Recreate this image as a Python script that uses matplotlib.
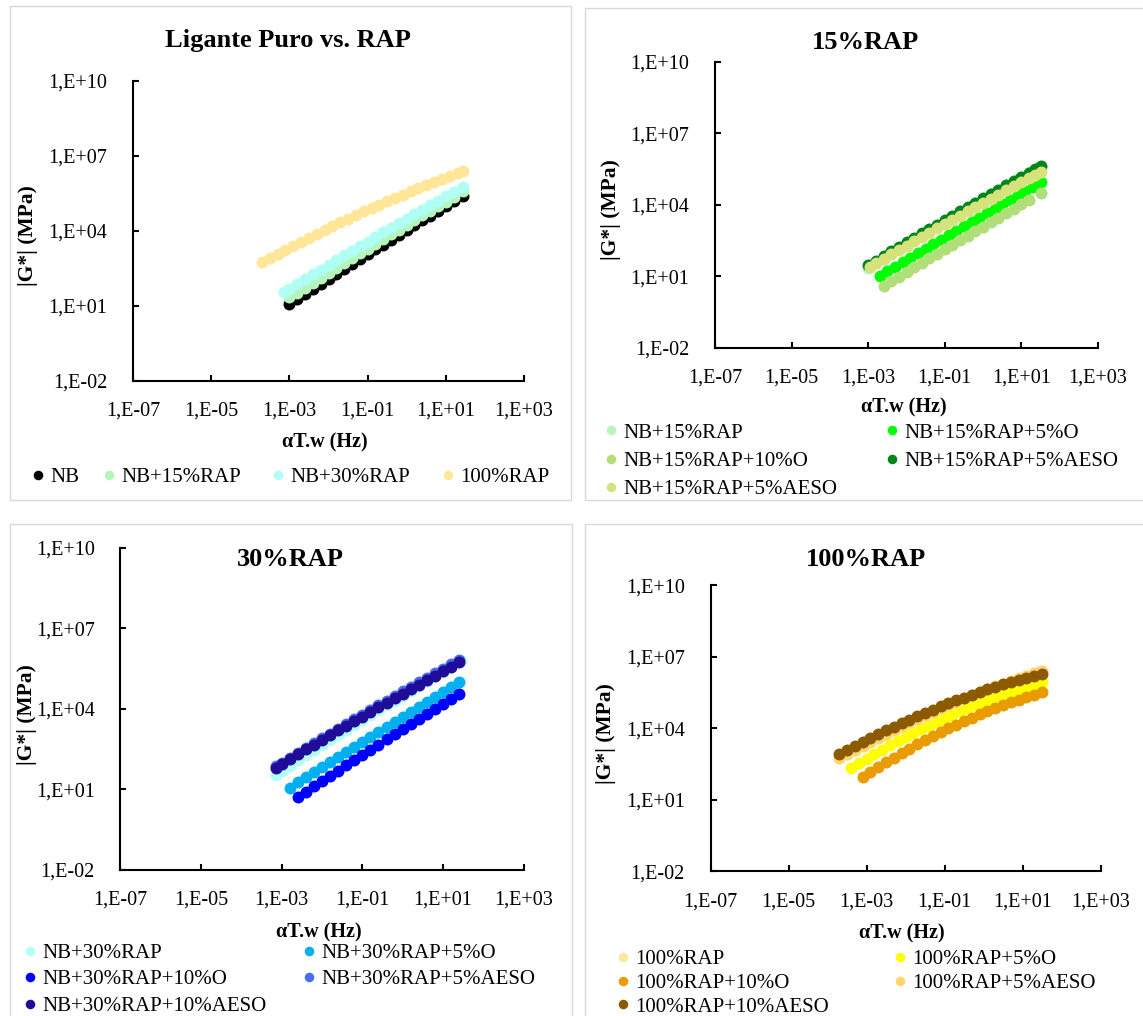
import matplotlib
matplotlib.use("Agg")
import matplotlib.pyplot as plt
from matplotlib.patches import Rectangle
from matplotlib.legend import Legend

plt.rcParams['font.family'] = ['Liberation Serif', 'DejaVu Serif']

W, H = 1143, 1016

# ---------------- data: reduced frequency (Hz) and |G*| (MPa) ----------------
# Ligante puro vs RAP
nb_f = [1.00e-3, 1.58e-3, 2.51e-3, 3.98e-3, 6.31e-3, 1.00e-2, 1.58e-2, 2.51e-2,
        3.98e-2, 6.31e-2, 0.100, 0.158, 0.251, 0.398, 0.631, 1.00, 1.58, 2.51,
        3.98, 6.31, 10.0, 15.8, 28.2]
nb_g = [11.5, 18.4, 29.3, 46.6, 74.2, 118, 187, 295, 467, 736, 1160, 1820, 2860,
        4480, 7000, 10900, 17100, 26500, 41200, 64000, 99100, 153000, 263000]

nb15_f = nb_f
nb15_g = [21.9, 34.5, 54.4, 85.6, 134, 211, 330, 517, 807, 1260, 1960, 3050, 4730,
          7330, 11300, 17500, 27100, 41700, 64200, 98600, 151000, 232000, 394000]

nb30_f = [7.08e-4, 1.00e-3, 1.58e-3, 2.51e-3, 3.98e-3, 6.31e-3, 1.00e-2, 1.58e-2,
          2.51e-2, 3.98e-2, 6.31e-2, 0.100, 0.158, 0.251, 0.398, 0.631, 1.00,
          1.58, 2.51, 3.98, 6.31, 10.0, 15.8, 28.2]
nb30_g = [35.5, 49.5, 77.0, 120, 185, 287, 443, 683, 1050, 1620, 2480, 3790, 5790,
          8830, 13400, 20400, 30900, 46800, 70800, 107000, 161000, 241000, 362000,
          598000]

rap_f = [2.00e-4, 3.16e-4, 5.01e-4, 7.94e-4, 1.26e-3, 2.00e-3, 3.16e-3, 5.01e-3,
         7.94e-3, 1.26e-2, 2.00e-2, 3.16e-2, 5.01e-2, 7.94e-2, 0.126, 0.200, 0.316,
         0.501, 0.794, 1.26, 2.00, 3.16, 5.01, 7.94, 12.6, 20.0, 28.2]
rap_g = [562, 832, 1220, 1790, 2610, 3780, 5450, 7810, 11100, 15800, 22200, 31200,
         43400, 60300, 83200, 114000, 156000, 211000, 285000, 383000, 512000,
         680000, 899000, 1180000, 1540000, 2010000, 2440000]

# 15%RAP
o5_15_f = [2.00e-3, 3.16e-3, 5.01e-3, 7.94e-3, 1.26e-2, 2.00e-2, 3.16e-2, 5.01e-2,
           7.94e-2, 0.126, 0.200, 0.316, 0.501, 0.794, 1.26, 2.00, 3.16, 5.01,
           7.94, 12.6, 20.0, 31.6]
o5_15_g = [10.5, 16.2, 25.1, 38.8, 59.9, 92.5, 143, 220, 339, 521, 802, 1230, 1890,
           2900, 4450, 6820, 10400, 16000, 24400, 37300, 57000, 87000]

o10_15_f = [2.51e-3, 3.98e-3, 6.31e-3, 1.00e-2, 1.58e-2, 2.51e-2, 3.98e-2, 6.31e-2,
            0.100, 0.158, 0.251, 0.398, 0.631, 1.00, 1.58, 2.51, 3.98, 6.31, 10.0,
            15.8, 31.6]
o10_15_g = [3.98, 6.21, 9.67, 15.1, 23.4, 36.4, 56.5, 87.8, 136, 211, 327, 505, 782,
            1210, 1860, 2880, 4440, 6840, 10500, 16200, 30800]

a5_15_f = [1.00e-3, 1.58e-3, 2.51e-3, 3.98e-3, 6.31e-3, 1.00e-2, 1.58e-2, 2.51e-2,
           3.98e-2, 6.31e-2, 0.100, 0.158, 0.251, 0.398, 0.631, 1.00, 1.58, 2.51,
           3.98, 6.31, 10.0, 15.8, 22.4, 31.6]
a5_15_g = [28.8, 45.0, 70.0, 109, 169, 261, 404, 623, 958, 1470, 2260, 3460, 5290,
           8070, 12300, 18700, 28300, 42900, 64800, 97800, 147000, 221000, 300000,
           406000]

a5b_15_f = [1.12e-3, 1.58e-3, 2.51e-3, 3.98e-3, 6.31e-3, 1.00e-2, 1.58e-2, 2.51e-2,
            3.98e-2, 6.31e-2, 0.100, 0.158, 0.251, 0.398, 0.631, 1.00, 1.58, 2.51,
            3.98, 6.31, 10.0, 15.8, 22.4, 31.6]
a5b_15_g = [25.1, 34.7, 53.3, 81.6, 125, 191, 291, 442, 671, 1020, 1540, 2320, 3500,
            5270, 7910, 11900, 17800, 26500, 39500, 58800, 87300, 129000, 174000,
            233000]

# 30%RAP
o5_30_f = [1.58e-3, 2.51e-3, 3.98e-3, 6.31e-3, 1.00e-2, 1.58e-2, 2.51e-2, 3.98e-2,
           6.31e-2, 0.100, 0.158, 0.251, 0.398, 0.631, 1.00, 1.58, 2.51, 3.98,
           6.31, 10.0, 15.8, 25.1]
o5_30_g = [11.5, 17.9, 27.8, 43.2, 67.1, 104, 161, 249, 385, 594, 916, 1410, 2170,
           3340, 5120, 7850, 12000, 18400, 28100, 42900, 65500, 99700]

o10_30_f = [2.51e-3, 3.98e-3, 6.31e-3, 1.00e-2, 1.58e-2, 2.51e-2, 3.98e-2, 6.31e-2,
            0.100, 0.158, 0.251, 0.398, 0.631, 1.00, 1.58, 2.51, 3.98, 6.31, 10.0,
            15.8, 25.1]
o10_30_g = [5.25, 8.26, 13.0, 20.4, 32.0, 50.1, 78.5, 123, 192, 299, 466, 725, 1130,
            1750, 2720, 4210, 6510, 10100, 15600, 24000, 37000]

a5_30_f = [7.08e-4, 1.00e-3, 1.58e-3, 2.51e-3, 3.98e-3, 6.31e-3, 1.00e-2, 1.58e-2,
           2.51e-2, 3.98e-2, 6.31e-2, 0.100, 0.158, 0.251, 0.398, 0.631, 1.00,
           1.58, 2.51, 3.98, 6.31, 10.0, 15.8, 25.1]
a5_30_g = [70.8, 97.3, 148, 226, 343, 521, 789, 1190, 1800, 2710, 4070, 6110, 9150,
           13700, 20400, 30400, 45200, 67100, 99300, 147000, 217000, 319000, 469000,
           689000]

a10_30_f = a5_30_f
a10_30_g = [64.6, 88.3, 134, 202, 305, 460, 692, 1040, 1560, 2330, 3470, 5170, 7700,
            11400, 16900, 25000, 37000, 54500, 80100, 118000, 172000, 252000, 368000,
            537000]

# 100%RAP
o5_100_f = [3.98e-4, 6.31e-4, 1.00e-3, 1.58e-3, 2.51e-3, 3.98e-3, 6.31e-3, 1.00e-2,
            1.58e-2, 2.51e-2, 3.98e-2, 6.31e-2, 0.100, 0.158, 0.251, 0.398, 0.631,
            1.00, 1.58, 2.51, 3.98, 6.31, 10.0, 15.8, 22.4, 31.6]
o5_100_g = [219, 344, 536, 828, 1260, 1910, 2870, 4250, 6240, 9080, 13100, 18600,
            26300, 36800, 50900, 69800, 94700, 127000, 169000, 223000, 291000,
            376000, 481000, 609000, 722000, 852000]

o10_100_f = [7.94e-4, 1.26e-3, 2.00e-3, 3.16e-3, 5.01e-3, 7.94e-3, 1.26e-2, 2.00e-2,
             3.16e-2, 5.01e-2, 7.94e-2, 0.126, 0.200, 0.316, 0.501, 0.794, 1.26,
             2.00, 3.16, 5.01, 7.94, 12.6, 20.0, 31.6]
o10_100_g = [87.1, 143, 230, 368, 580, 904, 1390, 2120, 3180, 4710, 6910, 9990,
             14300, 20200, 28200, 38800, 52800, 71000, 94300, 124000, 160000, 205000,
             259000, 324000]

a5_100_f = [2.00e-4, 3.16e-4, 5.01e-4, 7.94e-4, 1.26e-3, 2.00e-3, 3.16e-3, 5.01e-3,
            7.94e-3, 1.26e-2, 2.00e-2, 3.16e-2, 5.01e-2, 7.94e-2, 0.126, 0.200,
            0.316, 0.501, 0.794, 1.26, 2.00, 3.16, 5.01, 7.94, 12.6, 20.0, 31.6]
a5_100_g = [550, 833, 1250, 1870, 2770, 4080, 5970, 8660, 12500, 17800, 25400, 35700,
            50100, 69600, 96000, 132000, 179000, 242000, 324000, 431000, 570000,
            748000, 975000, 1260000, 1620000, 2070000, 2610000]

a10_100_f = a5_100_f
a10_100_g = [813, 1220, 1820, 2680, 3930, 5700, 8200, 11700, 16600, 23200, 32300,
             44500, 60900, 82600, 111000, 148000, 196000, 256000, 333000, 429000,
             548000, 694000, 872000, 1090000, 1340000, 1640000, 1990000]

x_ticks = [1e-7, 1e-5, 1e-3, 1e-1, 1e1, 1e3]
x_tick_labels = ['1,E-07', '1,E-05', '1,E-03', '1,E-01', '1,E+01', '1,E+03']
y_ticks = [1e-2, 1e1, 1e4, 1e7, 1e10]
y_tick_labels = ['1,E-02', '1,E+01', '1,E+04', '1,E+07', '1,E+10']

# ---------------- panels ----------------
panels = [
    dict(axes_px=(133, 81, 524, 381), box_px=(9.5, 6, 571, 500),
         title='Ligante Puro vs. RAP', title_px=(287.6, 47.3),
         xlab_px=(324.8, 447.7), ylab_px=(28.3, 235.7),
         series=[(nb_f, nb_g, 'NB', 'black'),
                 (nb15_f, nb15_g, 'NB+15%RAP', '#b5f5bc'),
                 (nb30_f, nb30_g, 'NB+30%RAP', '#b0fff5'),
                 (rap_f, rap_g, '100%RAP', '#ffe699')],
         leg_cols=[[0], [1], [2], [3]], leg_x=[38, 109, 278, 448],
         leg_y=477, leg_sp=0.3),
    dict(axes_px=(715, 61.7, 1098, 347.7), box_px=(585, 8, 1150, 500),
         title='15%RAP', title_px=(865.8, 49.3),
         xlab_px=(903.8, 412), ylab_px=(611, 210),
         series=[(nb15_f, nb15_g, 'NB+15%RAP', '#b8f5c0'),
                 (o5_15_f, o5_15_g, 'NB+15%RAP+5%O', '#00ff00'),
                 (o10_15_f, o10_15_g, 'NB+15%RAP+10%O', '#b0de78'),
                 (a5_15_f, a5_15_g, 'NB+15%RAP+5%AESO', '#00851c'),
                 (a5b_15_f, a5b_15_g, 'NB+15%RAP+5%AESO', '#d6e37c')],
         leg_cols=[[0, 2, 4], [1, 3]], leg_x=[611, 891.5],
         leg_y=432.5, leg_sp=0.41),
    dict(axes_px=(120.4, 548, 523.7, 869.7), box_px=(9.5, 524, 572, 1030),
         title='30%RAP', title_px=(290, 566.3),
         xlab_px=(318.8, 937), ylab_px=(26.6, 714.7),
         series=[(nb30_f, nb30_g, 'NB+30%RAP', '#b3fff7'),
                 (o5_30_f, o5_30_g, 'NB+30%RAP+5%O', '#00b0f0'),
                 (o10_30_f, o10_30_g, 'NB+30%RAP+10%O', '#0000ff'),
                 (a5_30_f, a5_30_g, 'NB+30%RAP+5%AESO', '#4a6cf5'),
                 (a10_30_f, a10_30_g, 'NB+30%RAP+10%AESO', '#1f0c99')],
         leg_cols=[[0, 2, 4], [1, 3]], leg_x=[30, 309],
         leg_y=952.7, leg_sp=0.33),
    dict(axes_px=(710.5, 585.3, 1100.5, 871.3), box_px=(585, 524, 1150, 1030),
         title='100%RAP', title_px=(866.5, 566.3),
         xlab_px=(901.7, 938), ylab_px=(606.3, 733.7),
         series=[(rap_f, rap_g, '100%RAP', '#ffe6a0'),
                 (o5_100_f, o5_100_g, '100%RAP+5%O', '#ffff00'),
                 (o10_100_f, o10_100_g, '100%RAP+10%O', '#e89c00'),
                 (a5_100_f, a5_100_g, '100%RAP+5%AESO', '#ffd56e'),
                 (a10_100_f, a10_100_g, '100%RAP+10%AESO', '#8c5a00')],
         leg_cols=[[0, 2, 4], [1, 3]], leg_x=[622.5, 900],
         leg_y=959, leg_sp=0.2),
]

fig = plt.figure(figsize=(W / 100, H / 100), dpi=100)


def fig_xy(px, py):
    return px / W, 1 - py / H


for p in panels:
    # gray frame of each chart
    x0, y0, x1, y1 = p['box_px']
    fig.add_artist(Rectangle(fig_xy(x0, y1), (x1 - x0) / W, (y1 - y0) / H,
                             transform=fig.transFigure, fill=False,
                             edgecolor='#d9d9d9', linewidth=1))

    x0, y0, x1, y1 = p['axes_px']
    ax = fig.add_axes([x0 / W, 1 - y1 / H, (x1 - x0) / W, (y1 - y0) / H])
    ax.patch.set_alpha(0)

    handles, labels = [], []
    for f, g, name, col in p['series']:
        ln, = ax.plot(f, g, linestyle='none', marker='o', markersize=8.6,
                      markeredgewidth=0, color=col, label=name)
        handles.append(ln)
        labels.append(name)

    ax.set_xscale('log')
    ax.set_yscale('log')
    ax.set_xlim(1e-7, 1e3)
    ax.set_ylim(1e-2, 1e10)
    ax.set_xticks(x_ticks)
    ax.set_xticklabels(x_tick_labels)
    ax.set_yticks(y_ticks)
    ax.set_yticklabels(y_tick_labels)
    ax.minorticks_off()
    for s in ['top', 'right']:
        ax.spines[s].set_visible(False)
    for s in ['left', 'bottom']:
        ax.spines[s].set_linewidth(1.5)
    ax.tick_params(direction='in', length=4.5, width=1.5, labelsize=14.5)
    ax.tick_params(axis='x', pad=15)
    ax.tick_params(axis='y', pad=18.5)

    tx, ty = fig_xy(*p['title_px'])
    fig.text(tx, ty, p['title'], ha='center', va='baseline', fontsize=19,
             fontweight='bold')
    lx, ly = fig_xy(*p['xlab_px'])
    fig.text(lx, ly, 'αT.w (Hz)', ha='center', va='baseline', fontsize=14.5,
             fontweight='bold')
    yx, yy = fig_xy(*p['ylab_px'])
    fig.text(yx, yy, '|G*| (MPa)', ha='center', va='center', rotation=90,
             fontsize=15.5, fontweight='bold')

    # legend, one block per column so the columns sit where Excel put them
    for idx, mx in zip(p['leg_cols'], p['leg_x']):
        ax_, ay_ = fig_xy(mx - 6.25, p['leg_y'] - 9.4)
        leg = Legend(ax, [handles[i] for i in idx], [labels[i] for i in idx],
                     loc='upper left', bbox_to_anchor=(ax_, ay_),
                     bbox_transform=fig.transFigure, frameon=False,
                     prop={'size': 15}, handlelength=0.6, handletextpad=0.3,
                     labelspacing=p['leg_sp'], borderpad=0, borderaxespad=0,
                     numpoints=1, markerscale=0.8)
        ax.add_artist(leg)

fig.savefig('out.png', dpi=100)
